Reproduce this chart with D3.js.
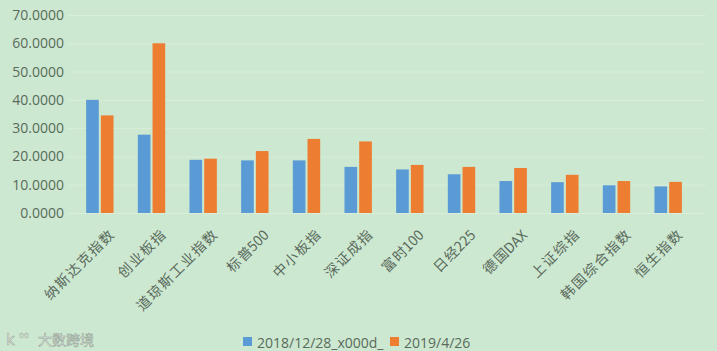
<!DOCTYPE html>
<html>
<head>
<meta charset="utf-8">
<script src="https://cdn.jsdelivr.net/npm/d3@7"></script>
<style>
  body { margin: 0; background: #cde8d0; }
  svg { display: block; }
</style>
</head>
<body>
<div id="chart"></div>
<script>
// Chart data
const categories = ["纳斯达克指数", "创业板指", "道琼斯工业指数", "标普500", "中小板指", "深证成指",
                    "富时100", "日经225", "德国DAX", "上证综指", "韩国综合指数", "恒生指数"]
const seriesNames = ["2018/12/28_x000d_", "2019/4/26"]
const values2018 = [40.0, 27.7, 18.8, 18.6, 18.6, 16.3, 15.4, 13.7, 11.3, 10.9, 9.8, 9.4]
const values2019 = [34.5, 60.0, 19.2, 21.9, 26.2, 25.3, 17.0, 16.3, 15.9, 13.5, 11.3, 11.0]
const yTicks = [0, 10, 20, 30, 40, 50, 60, 70]
const colors = ["#5b9bd5", "#ed7d31"]

const WIDTH = 717
const HEIGHT = 351
const PLOT = {LEFT: 74, RIGHT: 694, TOP: 15, BOTTOM: 213}

let svg = d3.select("#chart").append("svg")
    .attr("width", WIDTH)
    .attr("height", HEIGHT)

svg.append("rect")
    .attr("width", WIDTH)
    .attr("height", HEIGHT)
    .attr("fill", "#cde8d0")

let xScale = d3.scaleBand()
    .domain(categories)
    .range([PLOT.LEFT, PLOT.RIGHT])
    .paddingInner(0.47)
    .paddingOuter(0.235)

let xInner = d3.scaleBand()
    .domain(seriesNames)
    .range([0, xScale.bandwidth()])
    .paddingInner(0.14)

let yScale = d3.scaleLinear()
    .domain([0, 70])
    .range([PLOT.BOTTOM, PLOT.TOP])

// gridlines
svg.append("g")
    .selectAll("line")
    .data(yTicks)
    .join("line")
        .attr("x1", 68)
        .attr("x2", 706)
        .attr("y1", d => yScale(d) + 0.5)
        .attr("y2", d => yScale(d) + 0.5)
        .attr("stroke", "#d8eed9")
        .attr("stroke-width", 1)

// y axis
let yAxis = svg.append("g")
    .attr("transform", "translate(64,0)")
    .call(d3.axisLeft(yScale).tickValues(yTicks).tickFormat(d3.format(".4f")).tickSize(0).tickPadding(0))
yAxis.select(".domain").remove()
yAxis.selectAll("text")
    .attr("fill", "#5a6a5d")
    .style("font-family", "'Open Sans', sans-serif")
    .style("font-size", "14px")

// bars
let rows = categories.map((c, i) => ({cat: c, vals: [values2018[i], values2019[i]]}))
let groups = svg.append("g")
    .selectAll("g")
    .data(rows)
    .join("g")
        .attr("transform", d => "translate(" + xScale(d.cat) + ",0)")
groups.selectAll("rect")
    .data(d => d.vals.map((v, k) => ({name: seriesNames[k], v: v, k: k})))
    .join("rect")
        .attr("x", d => xInner(d.name))
        .attr("y", d => yScale(d.v))
        .attr("width", xInner.bandwidth())
        .attr("height", d => yScale(0) - yScale(d.v))
        .attr("fill", d => colors[d.k])

// x axis labels, rotated; chinese characters get a little extra spacing between them
const isCJK = ch => /[\u4e00-\u9fff]/.test(ch)
let xAxis = svg.append("g")
    .attr("transform", "translate(0," + PLOT.BOTTOM + ")")
    .call(d3.axisBottom(xScale).tickSize(0).tickPadding(0))
xAxis.select(".domain").remove()
xAxis.selectAll("text")
    .attr("fill", "#5a6a5d")
    .style("font-family", "'Noto Sans CJK SC', sans-serif")
    .style("font-size", "14px")
    .attr("text-anchor", "end")
    .attr("dy", 0)
    .attr("transform", "translate(15,23) rotate(-45)")
    .each(function(d) {
        let t = d3.select(this).text("")
        let chars = Array.from(d)
        chars.forEach((ch, i) => {
            let next = chars[i + 1]
            let spaced = isCJK(ch) && next !== undefined && isCJK(next)
            t.append("tspan")
                .style("letter-spacing", spaced ? "1.5px" : "0px")
                .text(ch)
        })
    })

// legend
let legend = svg.append("g")
    .attr("transform", "translate(243,337)")
let legendX = [0, 147]
seriesNames.forEach((name, k) => {
    let item = legend.append("g").attr("transform", "translate(" + legendX[k] + ",0)")
    item.append("rect")
        .attr("width", 9)
        .attr("height", 9)
        .attr("fill", colors[k])
    item.append("text")
        .attr("x", 14)
        .attr("y", 11)
        .attr("fill", "#5a6a5d")
        .style("font-family", "'Open Sans', sans-serif")
        .style("font-size", "14px")
        .text(name)
})

// watermark
let wm = svg.append("g").attr("transform", "translate(6,332)")
wm.append("text")
    .attr("x", 0)
    .attr("y", 13)
    .attr("fill", "#f2f8f2")
    .attr("stroke", "#9aa89c")
    .attr("stroke-width", 0.6)
    .style("font-family", "'DejaVu Sans', sans-serif")
    .style("font-size", "15px")
    .text("k")
wm.append("text")
    .attr("x", 13)
    .attr("y", 6)
    .attr("fill", "#f2f8f2")
    .attr("stroke", "#9aa89c")
    .attr("stroke-width", 0.4)
    .style("font-family", "'DejaVu Sans', sans-serif")
    .style("font-size", "8px")
    .text("oo")
wm.append("text")
    .attr("x", 32)
    .attr("y", 13)
    .attr("fill", "#f2f8f2")
    .attr("stroke", "#9aa89c")
    .attr("stroke-width", 0.6)
    .style("font-family", "'Noto Sans CJK SC', sans-serif")
    .style("font-size", "14px")
    .text("大数跨境")
</script>
</body>
</html>
